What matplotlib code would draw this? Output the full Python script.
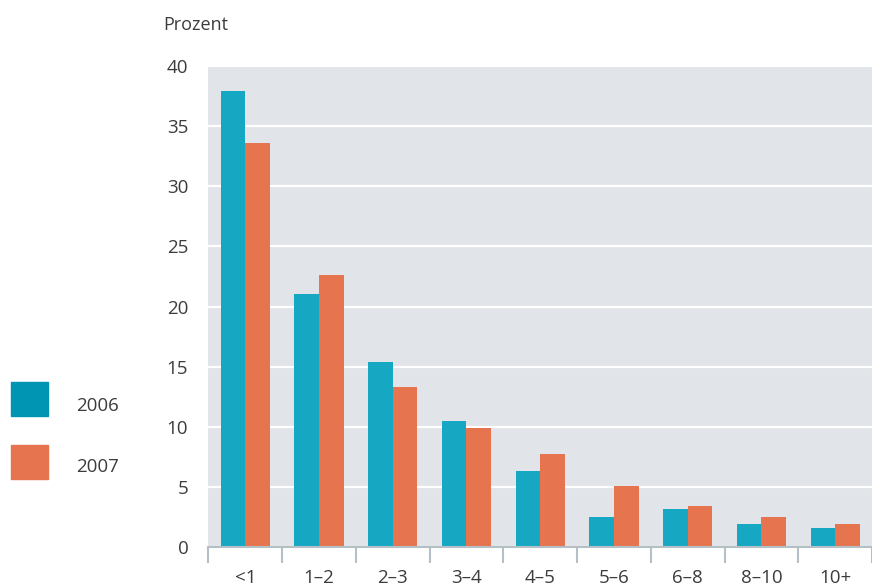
import matplotlib.pyplot as plt
import numpy as np
from matplotlib.patches import Rectangle

plt.rcParams['font.family'] = ['Open Sans', 'DejaVu Sans']

kategorien = ['<1', '1–2', '2–3', '3–4', '4–5', '5–6', '6–8', '8–10', '10+']
werte_2006 = [37.9, 21.0, 15.4, 10.5, 6.3, 2.5, 3.2, 1.9, 1.6]
werte_2007 = [33.6, 22.6, 13.3, 9.9, 7.7, 5.1, 3.4, 2.5, 1.9]
jahre = ['2006', '2007']

farbe_2006 = '#16a8c2'
farbe_2007 = '#e5744f'
farbe_text = '#3c3c3c'
farbe_achse = '#b4bfc6'
schrift = 13.5

fig = plt.figure(figsize=(8.72, 5.88), dpi=100)
ax = fig.add_axes([0.239, 0.0697, 0.761, 0.818])
ax.set_facecolor('#e1e4e8')

x = np.arange(len(kategorien))
b = 1 / 3
ax.bar(x - b / 2, werte_2006, width=b, color=farbe_2006, zorder=3)
ax.bar(x + b / 2, werte_2007, width=b, color=farbe_2007, zorder=3)

ax.set_ylim(0, 40)
ax.set_xlim(-0.5, 8.37)
ax.set_yticks(range(0, 41, 5))
ax.yaxis.grid(True, color='white', linewidth=1.6, zorder=1)
ax.set_axisbelow(True)

for s in ['top', 'right', 'left']:
    ax.spines[s].set_visible(False)
ax.spines['bottom'].set_color(farbe_achse)
ax.spines['bottom'].set_linewidth(1.5)
ax.spines['bottom'].set_zorder(4)

# Kategorien mittig, Trennstriche an den Grenzen
ax.set_xticks(x)
ax.set_xticklabels(kategorien)
ax.set_xticks(np.arange(len(kategorien) + 1) - 0.5, minor=True)
ax.tick_params(axis='x', which='major', length=0, pad=15.5, labelsize=schrift, labelcolor=farbe_text)
ax.tick_params(axis='x', which='minor', length=11.5, width=1.5, color=farbe_achse)
ax.tick_params(axis='y', length=0, pad=14.5, labelsize=schrift, labelcolor=farbe_text)

fig.text(163 / 872, 1 - 30 / 588, 'Prozent', fontsize=13, color=farbe_text,
         ha='left', va='baseline')

# Legende links
for i, (jahr, farbe) in enumerate(zip(jahre, ['#0096b3', farbe_2007])):
    y0 = 1 - (416 + i * 63) / 588
    fig.patches.append(Rectangle((11 / 872, y0), 37 / 872, 34 / 588,
                                 transform=fig.transFigure, color=farbe))
    fig.text(76 / 872, 1 - (411 + i * 61.5) / 588, jahr, fontsize=schrift,
             color=farbe_text, ha='left', va='baseline')

fig.savefig('out.png', dpi=100)
